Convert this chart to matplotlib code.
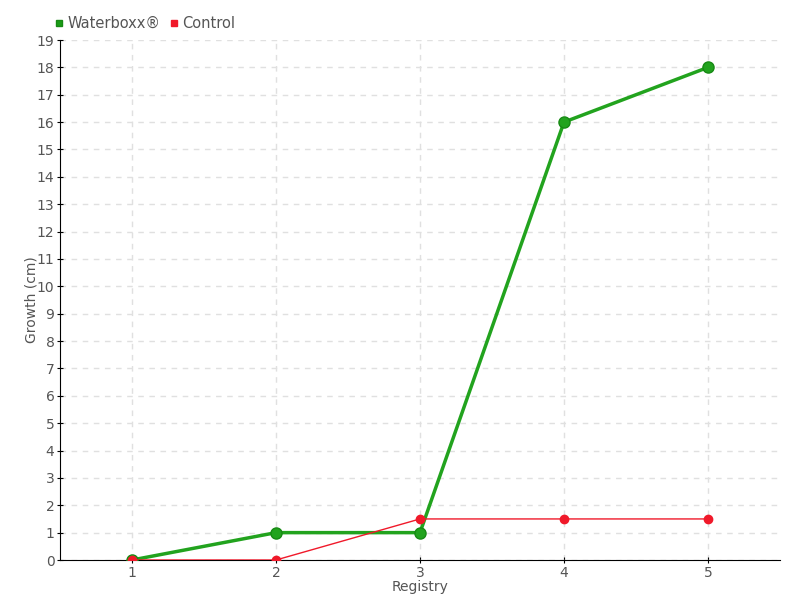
import matplotlib.pyplot as plt

registry = [1, 2, 3, 4, 5]
waterboxx = [0, 1, 1, 16, 18]
control = [0, 0, 1.5, 1.5, 1.5]

plt.rcParams['font.family'] = ['DejaVu Sans']

fig = plt.figure(figsize=(8, 6), dpi=100)
ax = fig.add_axes([60 / 800, 40 / 600, 720 / 800, 520 / 600])

ax.plot(registry, waterboxx, '-o', color='#22a31e', lw=2.5, markersize=8,
        markeredgecolor='#178a14', label='Waterboxx®', zorder=3)
ax.plot(registry, control, '-o', color='#f0192a', lw=1, markersize=6,
        label='Control', zorder=4)

ax.set_xlim(0.5, 5.5)
ax.set_ylim(0, 19)
ax.set_xticks(registry)
ax.set_yticks(range(20))
ax.grid(True, color='#e0e0e0', linestyle=(0, (4, 4)), lw=1)
ax.set_axisbelow(True)
for s in ['top', 'right']:
    ax.spines[s].set_visible(False)
ax.tick_params(colors='black', labelcolor='#555555', labelsize=10,
               length=4, direction='inout', pad=2)
ax.set_xlabel('Registry', color='#555555', fontsize=10, labelpad=0)
ax.set_ylabel('Growth (cm)', color='#555555', fontsize=10, labelpad=-1)

ax.legend(loc='lower left', bbox_to_anchor=(-0.02, 1.0), ncol=2, frameon=False,
          handlelength=0.6, handletextpad=0.3, columnspacing=0.6,
          fontsize=10.5, labelcolor='#555555', borderaxespad=0.2)
leg = ax.get_legend()
for h, c in zip(leg.legend_handles, ['#1a9c16', '#f0192a']):
    h.set_linestyle('')
    h.set_marker('s')
    h.set_markersize(5)
    h.set_color(c)

fig.savefig('out.png', dpi=100)
